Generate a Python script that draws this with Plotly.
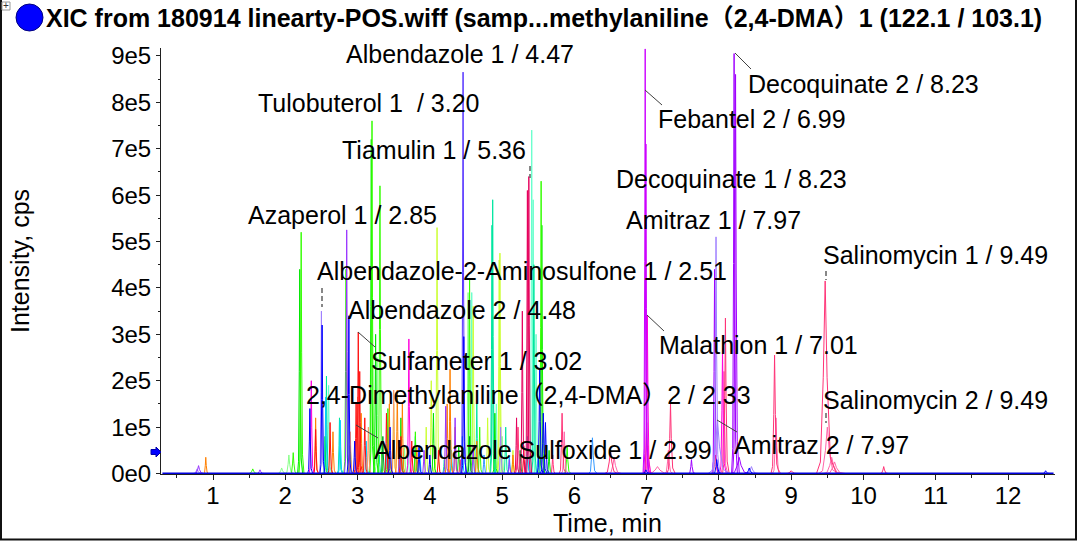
import plotly.graph_objects as go

# ---------------- DATA ----------------
# Each XIC group: list of peaks (retention time [min], apex intensity [cps], half base width [min])
run_time = [0.30, 12.63]

aqua_peaks = [(5.41, 740000, .03), (5.43, 590000, .03), (4.58, 390000, .03), (2.60, 190000, .03),
              (5.47, 300000, .03), (4.92, 150000, .03), (3.70, 45000, .03)]
teal_peaks = [(4.87, 590000, .03), (4.86, 535000, .03), (2.57, 210000, .03), (4.65, 150000, .03),
              (5.05, 100000, .03), (3.80, 80000, .03), (5.44, 450000, .03), (2.75, 120000, .03),
              (3.30, 40000, .03), (4.20, 30000, .03)]
yellowgreen_peaks = [(4.10, 530000, .03), (4.97, 475000, .03), (4.96, 460000, .03), (4.60, 360000, .03),
                     (4.02, 200000, .03), (3.50, 150000, .03), (4.80, 120000, .03), (3.95, 100000, .03),
                     (5.15, 50000, .03)]
lightgreen_peaks = [(2.21, 265000, .03), (3.27, 250000, .03), (1.95, 12000, .06), (4.53, 390000, .03),
                    (5.00, 80000, .03), (2.05, 40000, .05), (3.65, 60000, .03)]
green_peaks = [(3.19, 720000, .03), (2.20, 440000, .03), (5.55, 535000, .03), (3.25, 300000, .03),
               (4.90, 130000, .03), (4.05, 130000, .03), (2.55, 80000, .03), (3.60, 120000, .03),
               (5.65, 50000, .03), (4.40, 60000, .03)]
lime_peaks = [(2.22, 520000, .03), (3.20, 760000, .03), (3.31, 620000, .03), (5.54, 630000, .03),
              (4.55, 420000, .03), (2.84, 440000, .03), (1.55, 10000, .06), (2.11, 45000, .04),
              (4.69, 100000, .03), (5.90, 60000, .04), (3.42, 140000, .03), (3.80, 90000, .03)]
darkgreen_peaks = [(4.55, 80000, .03), (3.35, 80000, .03), (5.25, 50000, .03), (2.90, 60000, .03)]
cyan_peaks = [(2.56, 165000, .03), (2.76, 115000, .03), (3.12, 70000, .03), (4.45, 80000, .03),
              (3.86, 60000, .03), (5.35, 80000, .03), (5.10, 40000, .03), (4.30, 50000, .03)]
sky_peaks = [(6.25, 77000, .05), (4.75, 40000, .03), (3.40, 50000, .03), (5.50, 60000, .03)]
salmon_peaks = [(3.00, 165000, .03), (2.90, 90000, .03), (3.50, 180000, .03), (4.28, 120000, .03),
                (3.15, 100000, .03)]
orange_peaks = [(0.90, 35000, .03), (4.28, 225000, .03), (4.24, 150000, .03), (3.55, 180000, .03),
                (3.62, 150000, .03), (2.42, 120000, .03), (2.66, 90000, .03), (3.44, 150000, .03),
                (4.65, 70000, .03), (3.05, 130000, .03), (4.35, 100000, .03), (3.82, 60000, .03),
                (5.15, 40000, .03)]
red_peaks = [(3.01, 305000, .03), (3.03, 220000, .03), (2.98, 150000, .03), (2.42, 95000, .03),
             (3.10, 120000, .03), (3.40, 130000, .03), (2.62, 110000, .03), (3.60, 80000, .03),
             (3.75, 70000, .03), (4.12, 50000, .03), (5.30, 60000, .03)]
crimson_peaks = [(5.37, 640000, .03), (5.35, 610000, .03), (5.28, 350000, .03), (5.20, 120000, .03)]
pink2_peaks = [(9.50, 100000, .12), (9.56, 35000, .12), (8.79, 120000, .05), (7.30, 50000, .05),
               (7.15, 15000, .15), (6.55, 35000, .08), (5.86, 90000, .04), (8.07, 220000, .04),
               (7.02, 60000, .05), (9.60, 25000, .12)]
pink_peaks = [(9.47, 415000, .12), (8.09, 335000, .04), (8.77, 255000, .05), (7.33, 150000, .05),
              (5.83, 130000, .04), (6.50, 50000, .08), (10.28, 15000, .05), (9.00, 6000, .08),
              (7.95, 40000, .05), (5.22, 100000, .04), (7.00, 110000, .04), (4.42, 30000, .03),
              (5.70, 40000, .03)]
pinkmag_peaks = [(7.01, 340000, .035), (3.71, 290000, .03), (8.05, 270000, .04), (2.36, 200000, .03)]
magenta_peaks = [(6.98, 915000, .03), (6.99, 710000, .03)]
decoq_peaks = [(8.21, 905000, .035), (8.23, 860000, .04), (7.94, 440000, .035), (8.28, 35000, .12),
               (7.62, 30000, .04)]
lavender_peaks = [(2.50, 350000, .03), (7.96, 510000, .04), (7.98, 115000, .13), (8.45, 15000, .08),
                  (0.78, 10000, .06), (4.98, 100000, .03)]
purple_peaks = [(2.85, 525000, .03), (0.80, 17000, .06), (1.65, 8000, .05), (4.22, 145000, .03),
                (4.35, 120000, .03), (4.60, 60000, .03), (3.92, 50000, .03), (5.10, 30000, .03),
                (3.58, 40000, .03)]
violet_peaks = [(4.46, 865000, .03)]
blue_peaks = [(2.34, 140000, .03), (2.51, 320000, .03), (2.88, 340000, .025), (2.96, 70000, .03),
              (3.45, 100000, .03), (4.47, 295000, .03), (5.52, 225000, .035), (5.57, 130000, .04),
              (5.60, 110000, .04), (6.99, 8000, .05), (7.97, 30000, .05), (8.42, 12000, .06),
              (12.52, 6000, .05), (4.00, 40000, .03), (3.85, 60000, .03)]

x_ticks = list(range(1, 13))
y_tickvals = [0, 100000, 200000, 300000, 400000, 500000, 600000, 700000, 800000, 900000]
y_ticktext = ["0e0", "1e5", "2e5", "3e5", "4e5", "5e5", "6e5", "7e5", "8e5", "9e5"]

title_text = "XIC from 180914 linearty-POS.wiff (samp...methylaniline\uff082,4-DMA\uff091 (122.1 / 103.1)"
x_title = "Time, min"
y_title = "Intensity, cps"
peak_labels = ["Albendazole 1 / 4.47", "Tulobuterol 1 \u00a0/ 3.20", "Tiamulin 1 / 5.36",
               "Azaperol 1 / 2.85", "Albendazole-2-Aminosulfone 1 / 2.51", "Albendazole 2 / 4.48",
               "Sulfameter 1 / 3.02", "2,4-Dimethylaniline\uff082,4-DMA\uff092 / 2.33",
               "Albendazole Sulfoxide 1 / 2.99", "Febantel 2 / 6.99", "Decoquinate 2 / 8.23",
               "Decoquinate 1 / 8.23", "Amitraz 1 / 7.97", "Salinomycin 1 / 9.49",
               "Malathion 1 / 7.01", "Salinomycin 2 / 9.49", "Amitraz 2 / 7.97"]

# ---------------- STYLE / LAYOUT ----------------
FONT = "Liberation Sans, Arial, Noto Sans CJK SC, sans-serif"
W, H = 1080, 542
PL, PR, PT, PB = 161, 1055, 48, 474   # plot-area pixel bounds

PROFILE_DX = [-1.0, -0.55, -0.22, 0.0, 0.22, 0.6, 1.3]
PROFILE_FY = [0.0, 0.06, 0.5, 1.0, 0.5, 0.08, 0.0]

series_style = [
    (aqua_peaks, "#66ffcc"), (teal_peaks, "#00e6a0"), (yellowgreen_peaks, "#ccff33"),
    (lightgreen_peaks, "#88ff88"), (green_peaks, "#00e600"), (lime_peaks, "#33ff00"),
    (darkgreen_peaks, "#009933"), (cyan_peaks, "#00ccff"), (sky_peaks, "#3399ff"),
    (salmon_peaks, "#ff9966"), (orange_peaks, "#ff8000"), (red_peaks, "#ff1010"),
    (crimson_peaks, "#e6005c"), (pink2_peaks, "#ff66aa"), (pink_peaks, "#ff3377"),
    (pinkmag_peaks, "#ff00dd"), (magenta_peaks, "#cc00ff"), (decoq_peaks, "#a000ff"),
    (lavender_peaks, "#9f80ff"), (purple_peaks, "#9933ff"), (violet_peaks, "#5533ff"),
    (blue_peaks, "#0000ff"),
]


def peak_xy(peaks):
    xs, ys = [], []
    for rt, h, w in peaks:
        for dx, fy in zip(PROFILE_DX, PROFILE_FY):
            xs.append(rt + dx * w)
            ys.append(h * fy)
        xs.append(None)
        ys.append(None)
    return xs, ys


def px(x):
    return (x - PL) / (PR - PL)


def py(y):
    return (PB - y) / (PB - PT)


fig = go.Figure()
for peaks, color in series_style:
    xs, ys = peak_xy(peaks)
    fig.add_trace(go.Scatter(x=xs, y=ys, mode="lines", line=dict(color=color, width=1),
                             hoverinfo="skip", showlegend=False))
# blue XIC baseline over the whole run
fig.add_trace(go.Scatter(x=run_time, y=[0, 0], mode="lines", line=dict(color="#0000dd", width=2),
                         hoverinfo="skip", showlegend=False))

fig.update_layout(
    width=W, height=H,
    margin=dict(l=PL, r=W - PR, t=PT, b=H - PB),
    paper_bgcolor="white", plot_bgcolor="white",
    font=dict(family=FONT, color="black"),
    showlegend=False,
    xaxis=dict(range=[0.2805, 12.65], tickmode="array", tickvals=x_ticks,
               ticks="outside", ticklen=5, tickwidth=1, tickcolor="#202020",
               showline=True, linecolor="#202020", linewidth=1, ticklabelstandoff=-5,
               showgrid=False, zeroline=False, tickfont=dict(size=24, family=FONT),
               minor=dict(tickmode="linear", tick0=0.5, dtick=1, ticklen=3, ticks="outside",
                          tickcolor="#202020")),
    yaxis=dict(range=[-1000, 917000], tickmode="array", tickvals=y_tickvals, ticktext=y_ticktext,
               ticks="outside", ticklen=4, tickwidth=1, tickcolor="#202020",
               showline=True, linecolor="#202020", linewidth=1,
               showgrid=False, zeroline=False, tickfont=dict(size=24, family=FONT),
               minor=dict(tickmode="linear", tick0=50000, dtick=100000, ticklen=2, ticks="outside",
                          tickcolor="#202020")),
)

label_pos = [(344, 54), (256, 103), (340, 150), (246, 214.5), (315, 271), (346, 310),
             (369, 360.5), (304, 395), (372, 450), (656, 118.5), (746, 83.5), (614, 178.5),
             (624, 220), (821, 255), (657, 345), (821, 400), (732, 445)]

annotations = []
for text, (lx, cy) in zip(peak_labels, label_pos):
    annotations.append(dict(text=text, x=px(lx), y=py(cy), xref="paper", yref="paper",
                            xanchor="left", yanchor="middle", showarrow=False,
                            font=dict(size=25, family=FONT, color="black")))
annotations.append(dict(text="<b>" + title_text + "</b>", x=px(44), y=py(18), xref="paper", yref="paper",
                        xanchor="left", yanchor="middle", showarrow=False,
                        font=dict(size=25, family=FONT, color="black")))
annotations.append(dict(text=x_title, x=px(607), y=py(523), xref="paper", yref="paper",
                        xanchor="center", yanchor="middle", showarrow=False,
                        font=dict(size=25, family=FONT, color="black")))
annotations.append(dict(text=y_title, x=px(20), y=py(261), xref="paper", yref="paper",
                        xanchor="center", yanchor="middle", showarrow=False, textangle=-90,
                        font=dict(size=25, family=FONT, color="black")))
annotations.append(dict(text="+", x=px(6), y=py(6), xref="paper", yref="paper",
                        xanchor="center", yanchor="middle", showarrow=False,
                        font=dict(size=10, family=FONT, color="#333333")))
fig.update_layout(annotations=annotations)

shapes = []
# outer frame
shapes.append(dict(type="path", xref="paper", yref="paper",
                   path=f"M {px(1)},{py(0)} L {px(1)},{py(539.5)} L {px(1076)},{py(539.5)} L {px(1076)},{py(0)}",
                   line=dict(color="#111111", width=2)))
# blue status circle in title
shapes.append(dict(type="circle", xref="paper", yref="paper",
                   x0=px(16), x1=px(43), y0=py(31), y1=py(4),
                   fillcolor="#0000ff", line=dict(color="#000080", width=1)))
# small expander box
shapes.append(dict(type="rect", xref="paper", yref="paper", x0=px(2), x1=px(10), y0=py(10), y1=py(2),
                   line=dict(color="#999999", width=1)))
# blue threshold arrow on y axis
pts = [(151, 449.5), (156, 449.5), (156, 447), (161, 452), (156, 457), (156, 454.5), (151, 454.5)]
path = "M " + " L ".join(f"{px(a)},{py(b)}" for a, b in pts) + " Z"
shapes.append(dict(type="path", xref="paper", yref="paper", path=path,
                   fillcolor="#0000ff", line=dict(color="#0000aa", width=1)))
# leader lines
leaders = [((645, 90), (662, 105)), ((735, 53), (751, 69)), ((647, 315), (664, 331)),
           ((717, 420), (737, 432)), ((358, 332), (375, 347)), ((356, 425), (378, 438))]
for (x0, y0), (x1, y1) in leaders:
    shapes.append(dict(type="line", xref="paper", yref="paper", x0=px(x0), y0=py(y0), x1=px(x1), y1=py(y1),
                       line=dict(color="#404040", width=1)))
# dashed apex markers
markers = [(322, 288, 307), (530, 166, 178), (826, 271, 280), (826, 413, 423)]
for x0, y0, y1 in markers:
    shapes.append(dict(type="line", xref="paper", yref="paper", x0=px(x0), y0=py(y0), x1=px(x0), y1=py(y1),
                       line=dict(color="#606060", width=1.5, dash="5px,3px")))
fig.update_layout(shapes=shapes)

fig.write_html("out.html")
